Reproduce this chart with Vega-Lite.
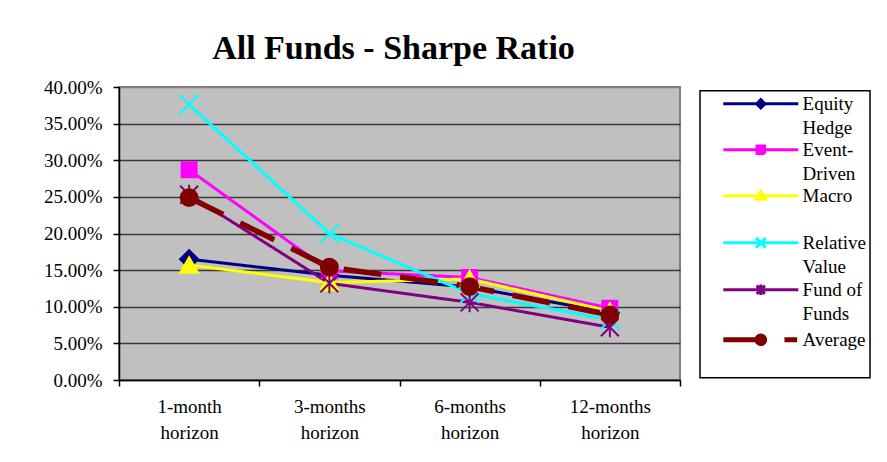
{
  "$schema": "https://vega.github.io/schema/vega-lite/v6.json",
  "width": 561,
  "height": 293,
  "autosize": {"type": "none"},
  "padding": {"left": 119, "top": 87, "right": 207, "bottom": 82},
  "background": "white",
  "title": {
    "text": "All Funds - Sharpe Ratio",
    "font": "Liberation Serif",
    "fontSize": 34,
    "fontWeight": "bold",
    "color": "black",
    "anchor": "middle",
    "frame": "group",
    "baseline": "alphabetic",
    "offset": 27.5,
    "dx": -6,
    "dy": 42
  },
  "config": {
    "view": {"fill": "#C0C0C0", "stroke": "#808080", "strokeWidth": 2},
    "axis": {
      "labelFont": "Liberation Serif",
      "labelFontSize": 19,
      "labelColor": "black",
      "domainColor": "black",
      "domainWidth": 1.5,
      "tickColor": "black",
      "tickWidth": 1.5,
      "tickSize": 6
    }
  },
  "data": {
    "values": [
      {"series": "Equity Hedge", "horizon": "1-month horizon", "value": 0.165},
      {"series": "Equity Hedge", "horizon": "3-months horizon", "value": 0.143},
      {"series": "Equity Hedge", "horizon": "6-months horizon", "value": 0.127},
      {"series": "Equity Hedge", "horizon": "12-months horizon", "value": 0.092},
      {"series": "Event-Driven", "horizon": "1-month horizon", "value": 0.287},
      {"series": "Event-Driven", "horizon": "3-months horizon", "value": 0.149},
      {"series": "Event-Driven", "horizon": "6-months horizon", "value": 0.140},
      {"series": "Event-Driven", "horizon": "12-months horizon", "value": 0.098},
      {"series": "Macro", "horizon": "1-month horizon", "value": 0.157},
      {"series": "Macro", "horizon": "3-months horizon", "value": 0.133},
      {"series": "Macro", "horizon": "6-months horizon", "value": 0.138},
      {"series": "Macro", "horizon": "12-months horizon", "value": 0.094},
      {"series": "Relative Value", "horizon": "1-month horizon", "value": 0.376},
      {"series": "Relative Value", "horizon": "3-months horizon", "value": 0.200},
      {"series": "Relative Value", "horizon": "6-months horizon", "value": 0.118},
      {"series": "Relative Value", "horizon": "12-months horizon", "value": 0.082},
      {"series": "Fund of Funds", "horizon": "1-month horizon", "value": 0.253},
      {"series": "Fund of Funds", "horizon": "3-months horizon", "value": 0.132},
      {"series": "Fund of Funds", "horizon": "6-months horizon", "value": 0.106},
      {"series": "Fund of Funds", "horizon": "12-months horizon", "value": 0.072},
      {"series": "Average", "horizon": "1-month horizon", "value": 0.249},
      {"series": "Average", "horizon": "3-months horizon", "value": 0.154},
      {"series": "Average", "horizon": "6-months horizon", "value": 0.1275},
      {"series": "Average", "horizon": "12-months horizon", "value": 0.089}
    ]
  },
  "encoding": {
    "x": {
      "field": "horizon",
      "type": "nominal",
      "sort": ["1-month horizon", "3-months horizon", "6-months horizon", "12-months horizon"],
      "scale": {"type": "band", "paddingInner": 0, "paddingOuter": 0},
      "axis": {
        "title": null,
        "labelAngle": 0,
        "tickBand": "extent",
        "labelPadding": 11,
        "labelLineHeight": 26,
        "labelExpr": "split(datum.label, ' ')"
      }
    },
    "y": {
      "field": "value",
      "type": "quantitative",
      "scale": {"domain": [0, 0.4], "nice": false},
      "axis": {
        "title": null,
        "values": [0, 0.05, 0.1, 0.15, 0.2, 0.25, 0.3, 0.35, 0.4],
        "format": ".2%",
        "grid": true,
        "gridColor": {"condition": {"test": "datum.value >= 0.39", "value": "#808080"}, "value": "#3a3a3a"},
        "gridWidth": 1.5,
        "labelPadding": 11
      }
    }
  },
  "layer": [
    {
      "mark": {"type": "line"},
      "encoding": {
        "color": {
          "field": "series",
          "type": "nominal",
          "scale": {
            "domain": ["Equity Hedge", "Event-Driven", "Macro", "Relative Value", "Fund of Funds", "Average"],
            "range": ["#000080", "#FF00FF", "#FFFF00", "#00FFFF", "#800080", "#800000"]
          },
          "legend": {
            "title": null,
            "orient": "none",
            "legendX": 581,
            "legendY": 3.7,
            "padding": 3.6,
            "strokeColor": "black",
            "symbolSize": 5625,
            "symbolOffset": 47.7,
            "labelOffset": 32.3,
            "rowPadding": 1,
            "labelFont": "Liberation Serif",
            "labelFontSize": 19,
            "labelColor": "black",
            "labelBaseline": "middle",
            "labelExpr": "{'Equity Hedge': ['Equity', 'Hedge'], 'Event-Driven': ['Event-', 'Driven'], 'Macro': ['Macro', ''], 'Relative Value': ['Relative', 'Value'], 'Fund of Funds': ['Fund of', 'Funds'], 'Average': ['Average', '']}[datum.label]",
            "encode": {
              "legend": {"update": {"strokeWidth": {"value": 1.5}}},
              "labels": {"update": {"lineHeight": {"value": 24}}},
              "symbols": {
                "update": {
                  "shape": {"signal": "{'Equity Hedge': 'M-1,0H1M0,-0.11L0.11,0L0,0.11L-0.11,0Z', 'Event-Driven': 'M-1,0H1M-0.1,-0.1H0.1V0.1H-0.1Z', 'Macro': 'M-1,0H1M0,-0.12L0.12,0.09H-0.12Z', 'Relative Value': 'M-1,0H1M-0.13,-0.13L0.13,0.13M-0.13,0.13L0.13,-0.13', 'Fund of Funds': 'M-1,0H1M-0.11,-0.11L0.11,0.11M-0.11,0.11L0.11,-0.11M0,-0.14V0.14', 'Average': 'M-1,0H0M0.63,0H0.97M-0.1,0A0.1,0.1 0 1,0 0.1,0A0.1,0.1 0 1,0 -0.1,0Z'}[datum.value]"},
                  "size": {"value": 5625},
                  "fill": {"signal": "scale('color', datum.value)"},
                  "stroke": {"signal": "scale('color', datum.value)"},
                  "strokeWidth": {"signal": "datum.value === 'Average' ? 5 : 3"},
                  "strokeDash": {"value": [1, 0]},
                  "opacity": {"value": 1}
                }
              }
            }
          }
        },
        "strokeDash": {
          "field": "series",
          "type": "nominal",
          "sort": ["Equity Hedge", "Event-Driven", "Macro", "Relative Value", "Fund of Funds", "Average"],
          "scale": {"range": [[1, 0], [1, 0], [1, 0], [1, 0], [1, 0], [38, 19]]},
          "legend": null
        },
        "strokeWidth": {
          "field": "series",
          "type": "nominal",
          "sort": ["Equity Hedge", "Event-Driven", "Macro", "Relative Value", "Fund of Funds", "Average"],
          "scale": {"type": "ordinal", "range": [3, 3, 3, 3, 3, 5.5]},
          "legend": null
        }
      }
    },
    {
      "mark": {"type": "point", "filled": true, "opacity": 1, "strokeWidth": 2},
      "encoding": {
        "fill": {
          "field": "series",
          "type": "nominal",
          "sort": ["Equity Hedge", "Event-Driven", "Macro", "Relative Value", "Fund of Funds", "Average"],
          "scale": {"range": ["#000080", "#FF00FF", "#FFFF00", "#00FFFF", "#800080", "#800000"]},
          "legend": null
        },
        "stroke": {
          "field": "series",
          "type": "nominal",
          "sort": ["Equity Hedge", "Event-Driven", "Macro", "Relative Value", "Fund of Funds", "Average"],
          "scale": {"range": ["#000080", "#FF00FF", "#FFFF00", "#00FFFF", "#800080", "#800000"]},
          "legend": null
        },
        "shape": {
          "field": "series",
          "type": "nominal",
          "sort": ["Equity Hedge", "Event-Driven", "Macro", "Relative Value", "Fund of Funds", "Average"],
          "scale": {"range": ["diamond", "square", "triangle-up", "M-1,-1L1,1M-1,1L1,-1", "M-0.9,-0.9L0.9,0.9M-0.9,0.9L0.9,-0.9M0,-1V1", "circle"]},
          "legend": null
        },
        "size": {
          "field": "series",
          "type": "nominal",
          "sort": ["Equity Hedge", "Event-Driven", "Macro", "Relative Value", "Fund of Funds", "Average"],
          "scale": {"type": "ordinal", "range": [324, 225, 324, 361, 400, 284]},
          "legend": null
        }
      }
    }
  ]
}
